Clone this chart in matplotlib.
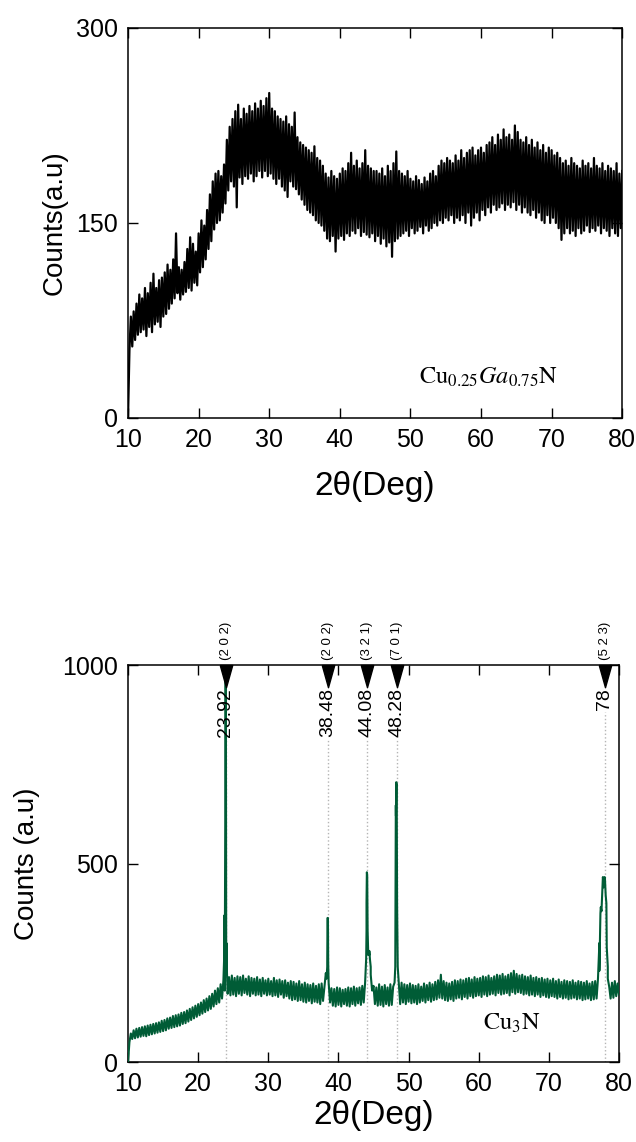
import numpy as np
import matplotlib
matplotlib.use("Agg")
import matplotlib.pyplot as plt
import matplotlib.transforms as mtransforms

plt.rcParams['font.family'] = ['Liberation Sans', 'DejaVu Sans']
plt.rcParams['mathtext.fontset'] = 'stix'

# ---------------- data ----------------
# Top panel: Cu0.25Ga0.75N, sampled every 0.2 deg from 10 to 80
top_start, top_stop = 10.0, 80.0
counts_top = [
    0, 52, 78, 55, 82,
    60, 88, 64, 95, 66,
    92, 68, 100, 63, 96,
    70, 104, 66, 111, 72,
    100, 74, 106, 70, 108,
    78, 112, 80, 118, 84,
    114, 88, 122, 92, 142,
    96, 116, 91, 114, 95,
    120, 97, 130, 100, 139,
    98, 134, 104, 128, 102,
    142, 112, 152, 116, 148,
    122, 160, 130, 172, 136,
    182, 145, 188, 150, 190,
    152, 186, 158, 195, 165,
    214, 175, 224, 182, 230,
    178, 236, 162, 241, 185,
    230, 180, 238, 186, 234,
    184, 240, 188, 236, 182,
    242, 186, 238, 190, 244,
    185, 240, 190, 246, 186,
    250, 188, 238, 184, 236,
    180, 232, 184, 230, 178,
    228, 175, 232, 170, 226,
    182, 224, 178, 235, 176,
    216, 172, 212, 168, 210,
    164, 208, 160, 206, 158,
    204, 156, 209, 152, 200,
    150, 198, 148, 194, 144,
    188, 138, 185, 136, 190,
    140, 186, 128, 184, 138,
    188, 140, 192, 137, 190,
    142, 196, 140, 204, 144,
    194, 142, 198, 146, 192,
    140, 196, 143, 206, 141,
    194, 139, 192, 142, 190,
    136, 190, 140, 188, 134,
    192, 138, 186, 132, 194,
    135, 190, 124, 196, 136,
    205, 138, 190, 140, 188,
    142, 186, 144, 190, 140,
    184, 146, 182, 142, 186,
    144, 183, 147, 180, 142,
    185, 148, 182, 144, 188,
    146, 190, 150, 186, 148,
    194, 152, 198, 150, 196,
    154, 200, 152, 198, 156,
    196, 150, 202, 154, 198,
    152, 206, 156, 200, 150,
    204, 158, 206, 148, 208,
    154, 202, 158, 206, 152,
    208, 160, 204, 156, 210,
    162, 212, 158, 216, 164,
    210, 160, 218, 162, 214,
    165, 222, 160, 216, 164,
    218, 162, 214, 166, 225,
    160, 220, 164, 214, 158,
    212, 162, 216, 158, 210,
    156, 214, 160, 208, 154,
    212, 158, 206, 152, 210,
    150, 204, 156, 208, 150,
    206, 154, 202, 150, 204,
    146, 200, 137, 196, 142,
    198, 146, 194, 142, 200,
    144, 196, 140, 194, 146,
    192, 142, 198, 144, 194,
    148, 196, 143, 192, 146,
    200, 144, 194, 148, 192,
    142, 196, 146, 190, 144,
    194, 140, 192, 146, 190,
    142, 196, 140, 188, 146,
    190,
]

# Bottom panel: Cu3N background sampled every 0.2 deg from 10 to 80
counts_bottom_bg = [
    0, 50, 72, 58, 80,
    60, 84, 62, 86, 64,
    88, 66, 90, 65, 92,
    68, 94, 70, 96, 72,
    98, 74, 100, 76, 104,
    78, 106, 80, 110, 84,
    112, 86, 116, 88, 118,
    90, 120, 92, 124, 96,
    126, 98, 130, 102, 134,
    106, 138, 110, 142, 114,
    146, 118, 150, 122, 156,
    126, 160, 130, 166, 134,
    172, 140, 180, 146, 186,
    150, 196, 160, 206, 180,
    230, 172, 214, 168, 218,
    170, 212, 166, 216, 172,
    214, 168, 218, 174, 210,
    170, 216, 166, 212, 172,
    210, 168, 214, 170, 208,
    166, 212, 172, 206, 168,
    210, 170, 204, 166, 212,
    168, 206, 164, 208, 170,
    204, 162, 206, 166, 200,
    160, 204, 156, 202, 158,
    198, 154, 204, 156, 196,
    152, 200, 150, 196, 154,
    194, 148, 198, 152, 192,
    150, 196, 146, 198, 154,
    190, 224, 250, 200, 150,
    186, 142, 184, 140, 188,
    144, 186, 140, 182, 146,
    184, 142, 188, 140, 186,
    146, 190, 142, 186, 148,
    188, 144, 192, 150, 200,
    330, 300, 270, 240, 180,
    192, 146, 188, 142, 196,
    144, 190, 140, 194, 146,
    188, 142, 196, 144, 190,
    200, 620, 330, 200, 146,
    200, 150, 196, 146, 194,
    152, 198, 148, 194, 150,
    192, 146, 196, 150, 190,
    154, 198, 150, 194, 156,
    200, 152, 196, 156, 202,
    158, 206, 162, 220, 160,
    204, 156, 200, 154, 198,
    158, 202, 154, 206, 160,
    204, 162, 208, 158, 206,
    164, 210, 160, 212, 166,
    208, 162, 214, 166, 210,
    168, 212, 164, 216, 170,
    214, 166, 218, 170, 212,
    172, 216, 168, 220, 174,
    218, 170, 222, 172, 216,
    174, 220, 168, 224, 176,
    230, 172, 222, 176, 218,
    174, 220, 170, 216, 172,
    214, 168, 218, 170, 212,
    166, 214, 170, 210, 164,
    212, 168, 208, 164, 210,
    162, 206, 166, 210, 164,
    204, 160, 208, 164, 202,
    160, 206, 162, 204, 158,
    202, 160, 206, 162, 200,
    158, 204, 160, 202, 156,
    200, 158, 204, 160, 198,
    156, 202, 158, 204, 160,
    210, 300, 390, 420, 450,
    460, 400, 240, 190, 160,
    200, 162, 204, 166, 198,
    170,
]

# Bottom panel: extra points describing the diffraction peaks
peak_profile_two_theta = [
    23.70, 23.76, 23.82, 23.86, 23.90, 23.94, 23.98, 24.02, 24.08,
    38.30, 38.40, 38.44, 38.50, 38.54, 38.60,
    43.95, 44.00, 44.05, 44.10, 44.16, 44.25, 44.40, 44.50, 44.60, 44.75,
    48.10, 48.18, 48.24, 48.30, 48.36, 48.45,
    77.20, 77.35, 77.50, 77.70, 77.80, 77.95, 78.10, 78.25, 78.40,
]
peak_profile_counts = [
    260, 370, 380, 600, 1100, 1100, 500, 300, 240,
    210, 240, 363, 363, 250, 200,
    260, 400, 478, 470, 330, 270, 280, 257, 220, 190,
    240, 647, 705, 700, 400, 240,
    230, 375, 380, 466, 440, 466, 420, 290, 210,
]

# Peak annotations
peak_positions = [23.92, 38.48, 44.08, 48.28, 78.0]
peak_value_labels = ["23.92", "38.48", "44.08", "48.28", "78"]
peak_hkl = ["(2 0 2)", "(2 0 2)", "(3 2 1)", "(7 0 1)", "(5 2 3)"]

x_ticks = [10, 20, 30, 40, 50, 60, 70, 80]
top_y_ticks = [0, 150, 300]
bottom_y_ticks = [0, 500, 1000]

# ---------------- figure ----------------
fig = plt.figure(figsize=(6.36, 11.42), dpi=100)
ax1 = fig.add_axes([0.2013, 0.634, 0.777, 0.3415])
ax2 = fig.add_axes([0.2013, 0.070, 0.772, 0.3476])

two_theta_top = np.linspace(top_start, top_stop, len(counts_top))
ax1.plot(two_theta_top, counts_top, color='black', lw=1.6)

two_theta_bg = np.linspace(top_start, top_stop, len(counts_bottom_bg))
x_all = np.concatenate([two_theta_bg, peak_profile_two_theta])
y_all = np.concatenate([counts_bottom_bg, peak_profile_counts])
order = np.argsort(x_all, kind='stable')
green = '#005c36'

for ax, yt, lp in ((ax1, top_y_ticks, 14), (ax2, bottom_y_ticks, 3)):
    ax.set_xlim(10, 80)
    ax.set_ylim(yt[0], yt[-1])
    ax.set_xticks(x_ticks)
    ax.set_yticks(yt)
    ax.tick_params(direction='in', top=True, right=True, length=7, width=1,
                   labelsize=18)
    ax.tick_params(axis='x', pad=7)
    ax.tick_params(axis='y', pad=7)
    for s in ax.spines.values():
        s.set_linewidth(1.1)
    ax.set_xlabel('2θ(Deg)', fontsize=24, labelpad=lp)

ax1.set_ylabel('Counts(a.u)', fontsize=20, labelpad=6)
ax2.set_ylabel('Counts (a.u)', fontsize=20, labelpad=16)

ax1.text(51.2, 31, r'$\mathrm{Cu}_{0.25}Ga_{0.75}\mathrm{N}$', fontsize=17.5, va='center')
ax2.text(60.6, 98, r'$\mathrm{Cu}_{3}\mathrm{N}$', fontsize=17.5, va='center')

ax2.plot(x_all[order], y_all[order], color=green, lw=1.5, zorder=3)

blend = mtransforms.blended_transform_factory(ax2.transData, ax2.transAxes)
tri = [(-0.28, 0), (0.28, 0), (0, -1), (-0.28, 0)]
value_texts = []
for pos, lab, hkl in zip(peak_positions, peak_value_labels, peak_hkl):
    ax2.plot([pos], [1.0], transform=blend, marker=tri, ms=32, color='black',
             clip_on=False, zorder=5)
    t = ax2.annotate(lab, xy=(pos, 1.0), xycoords=blend, xytext=(0, -16.5),
                     textcoords='offset points', rotation=90, ha='center',
                     va='top', fontsize=14, zorder=4)
    value_texts.append(t)
    ax2.annotate(hkl, xy=(pos, 1.0), xycoords=blend, xytext=(0, 4),
                 textcoords='offset points', rotation=90, ha='center',
                 va='bottom', fontsize=9.5, annotation_clip=False)

fig.canvas.draw()
renderer = fig.canvas.get_renderer()
inv = ax2.transData.inverted()
for pos, t in zip(peak_positions, value_texts):
    bb = t.get_window_extent(renderer)
    ytop = inv.transform((0, bb.y0 - 2))[1]
    ax2.vlines(pos, 0, ytop, colors='#b5b5b5', linestyles=':', lw=1, zorder=1)

fig.savefig('out.png', dpi=100)
